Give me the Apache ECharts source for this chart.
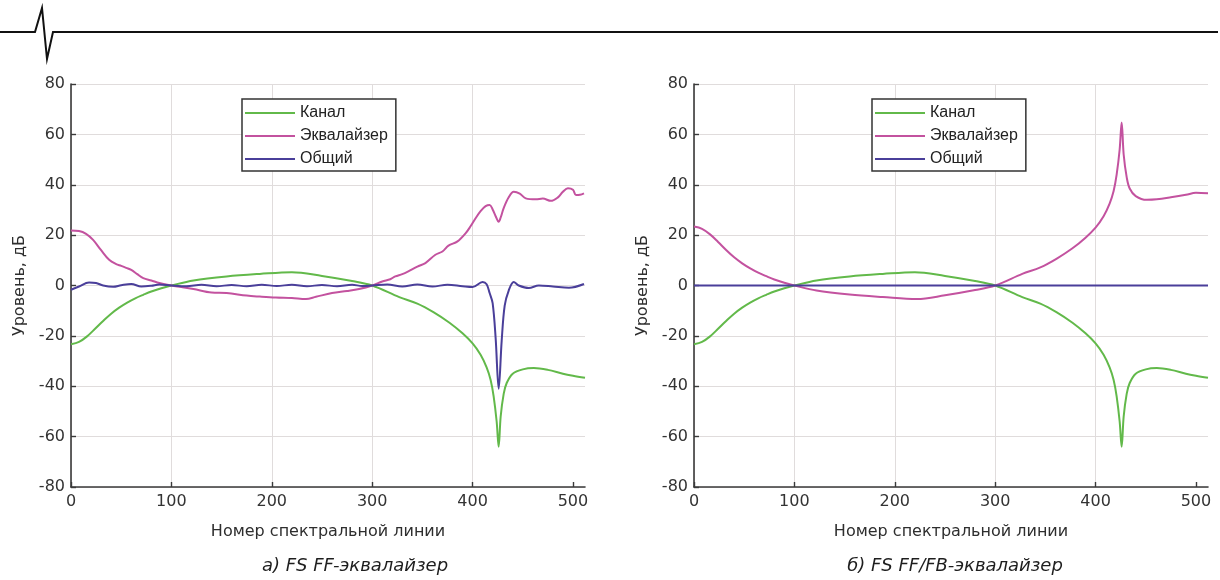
<!DOCTYPE html>
<html>
<head>
<meta charset="utf-8">
<script src="https://cdn.jsdelivr.net/npm/echarts@6/dist/echarts.min.js"></script>
<style>
  html, body { margin: 0; padding: 0; background: #ffffff; }
  #chart { width: 1220px; height: 580px; }
</style>
</head>
<body>
<div id="chart"></div>
<script>
// ---- Axis settings ----
const xTicks = [0, 100, 200, 300, 400, 500];
const xMax = 512;
const yMin = -80, yMax = 80, yStep = 20;

// ---- Channel response (same in both panels) ----
const kanalN  = [0, 8, 16, 24, 32, 40, 48, 56, 64, 72, 80, 90, 100, 122, 155, 188, 220, 250, 280, 300, 327, 345, 361, 377, 390, 400, 408, 414, 418, 421, 424, 426, 428, 431, 434, 440, 450, 461, 475, 490, 500, 512];
const kanalDb = [-23.3, -22.4, -20.2, -17.2, -14.1, -11.2, -8.8, -6.8, -5.1, -3.7, -2.4, -1.1, 0, 2.0, 3.6, 4.6, 5.3, 3.8, 1.8, 0, -4.6, -7.2, -10.6, -14.8, -19.0, -23.0, -27.5, -32.5, -37.5, -44.0, -54.0, -64.0, -52.0, -43.0, -38.7, -35.0, -33.3, -32.8, -33.5, -35.0, -35.8, -36.6];

// ---- Panel a: FF equalizer ----
const eqA_N  = [0, 8, 15, 22, 30, 38, 45, 50, 55, 60, 66, 72, 80, 88, 100, 110, 122, 140, 155, 175, 188, 204, 220, 234, 244, 260, 275, 287, 300, 310, 318, 323, 330, 336, 345, 353, 363, 370, 376, 385, 393, 398, 403, 408, 413, 417, 420, 423, 426, 428, 431, 436, 441, 447, 453, 463, 470, 478, 485, 490, 495, 500, 503, 507, 511];
const eqA_Db = [21.8, 21.6, 20.5, 18.1, 14.0, 10.2, 8.5, 7.8, 7.0, 6.2, 4.5, 2.9, 2.0, 1.0, 0, -0.6, -1.4, -2.8, -3.0, -4.0, -4.4, -4.8, -5.0, -5.4, -4.5, -3.0, -2.2, -1.4, 0, 1.6, 2.5, 3.6, 4.5, 5.6, 7.5, 8.9, 12.2, 13.5, 15.8, 17.5, 20.7, 23.5, 26.7, 29.5, 31.5, 32.0, 30.2, 27.5, 25.3, 27.0, 30.7, 35.0, 37.2, 36.5, 34.6, 34.2, 34.5, 33.6, 35.0, 37.2, 38.6, 38.0, 35.9, 36.0, 36.6];

const totA_N  = [0, 8, 18, 25, 32, 42, 50, 60, 70, 80, 88, 100, 115, 130, 145, 160, 175, 190, 205, 220, 235, 250, 265, 280, 290, 300, 315, 330, 345, 360, 375, 390, 400, 410, 414, 417, 420, 423, 426, 429, 432, 436, 441, 446, 456, 466, 480, 496, 511];
const totA_Db = [-1.7, -0.4, 1.2, 1.0, 0, -0.5, 0.1, 0.6, -0.4, -0.1, 0.4, 0, -0.3, 0.3, -0.3, 0.2, -0.3, 0.3, -0.2, 0.3, -0.3, 0.2, -0.3, 0.3, -0.2, 0, 0.4, -0.4, 0.4, -0.4, 0.3, -0.3, -0.6, 1.4, 0.5, -3.0, -7.0, -21.0, -41.0, -22.0, -8.0, -2.0, 1.4, 0, -1.0, 0, -0.4, -0.9, 0.6];

// ---- Panel b: FF/FB equalizer ----
const eqB_N  = [0, 8, 16, 24, 32, 40, 48, 56, 64, 72, 80, 90, 100, 122, 155, 188, 222, 250, 280, 300, 327, 345, 361, 377, 390, 400, 408, 414, 418, 421, 424, 426, 428, 431, 434, 440, 451, 461, 475, 490, 500, 512];
const eqB_Db = [23.4, 22.5, 20.3, 17.3, 14.1, 11.2, 8.8, 6.8, 5.1, 3.7, 2.4, 1.1, 0, -2.0, -3.6, -4.6, -5.4, -3.9, -1.8, 0, 4.6, 7.2, 10.6, 14.8, 19.0, 23.0, 27.5, 32.5, 37.5, 44.0, 54.0, 64.7, 52.0, 43.0, 38.5, 35.5, 34.0, 34.2, 35.0, 36.0, 36.8, 36.6];

const totB_N  = [0, 512];
const totB_Db = [0, 0];

// ---- Text ----
const seriesNames = ['Канал', 'Эквалайзер', 'Общий'];
const xName = 'Номер спектральной линии';
const yName = 'Уровень, дБ';
const captions = ['а) FS FF-эквалайзер', 'б) FS FF/FB-эквалайзер'];

const colors = { kanal: '#62b94a', eq: '#c3529f', tot: '#4a3f9a' };
const FONT = 'Arial, "Liberation Sans", sans-serif';
const WIDE = '"DejaVu Sans", Verdana, sans-serif';

const zip = (xs, ys) => xs.map((x, i) => [x, ys[i]]);

function xAxisFor(gridIndex) {
  return {
    type: 'value', gridIndex, min: 0, max: xMax, interval: 100,
    name: xName, nameLocation: 'middle', nameGap: 37,
    nameTextStyle: { fontSize: 16, color: '#2e2e2e', fontFamily: WIDE },
    axisLine: { show: true, onZero: false, lineStyle: { color: '#3a3a3a', width: 1.6 } },
    axisTick: { show: true, inside: true, length: 5, customValues: xTicks, lineStyle: { color: '#3a3a3a', width: 1.4 } },
    axisLabel: { fontSize: 16, color: '#333', fontFamily: WIDE, margin: 7, customValues: xTicks },
    splitLine: { show: true, showMaxLine: false, lineStyle: { color: '#e0dcdc', width: 1 } }
  };
}
function yAxisFor(gridIndex) {
  return {
    type: 'value', gridIndex, min: yMin, max: yMax, interval: yStep,
    name: yName, nameLocation: 'middle', nameGap: 43, nameRotate: 90,
    nameTextStyle: { fontSize: 16, color: '#2e2e2e', fontFamily: WIDE },
    axisLine: { show: true, onZero: false, lineStyle: { color: '#3a3a3a', width: 1.6 } },
    axisTick: { show: true, inside: true, length: 5, lineStyle: { color: '#3a3a3a', width: 1.4 } },
    axisLabel: { fontSize: 16, color: '#333', fontFamily: WIDE, margin: 6 },
    splitLine: { show: true, lineStyle: { color: '#e0dcdc', width: 1 } }
  };
}
function legendFor(left, top) {
  return {
    orient: 'vertical', left, top,
    data: seriesNames,
    icon: 'rect',
    backgroundColor: '#ffffff',
    borderColor: '#333', borderWidth: 1.5, borderRadius: 0,
    padding: [6, 8, 4, 3],
    itemGap: 7, itemWidth: 50, itemHeight: 2, itemTextGap: 2,
    selectedMode: false,
    textStyle: { fontSize: 16, color: '#222', fontFamily: FONT, lineHeight: 16, height: 16 }
  };
}
function lineSeries(name, data, color, idx) {
  return {
    name, type: 'line', xAxisIndex: idx, yAxisIndex: idx,
    data, smooth: 0.35, symbol: 'none', showSymbol: false,
    lineStyle: { color, width: 2 }, itemStyle: { color },
    animation: false, z: 3
  };
}

const chart = echarts.init(document.getElementById('chart'), null, { renderer: 'canvas' });
chart.setOption({
  backgroundColor: '#ffffff',
  animation: false,
  grid: [
    { left: 71, top: 84, width: 514, height: 403, containLabel: false, outerBoundsMode: 'none' },
    { left: 694, top: 84, width: 514, height: 403, containLabel: false, outerBoundsMode: 'none' }
  ],
  xAxis: [xAxisFor(0), xAxisFor(1)],
  yAxis: [yAxisFor(0), yAxisFor(1)],
  legend: [legendFor(242, 99), legendFor(872, 99)],
  series: [
    lineSeries(seriesNames[0], zip(kanalN, kanalDb), colors.kanal, 0),
    lineSeries(seriesNames[1], zip(eqA_N, eqA_Db), colors.eq, 0),
    lineSeries(seriesNames[2], zip(totA_N, totA_Db), colors.tot, 0),
    lineSeries(seriesNames[0], zip(kanalN, kanalDb), colors.kanal, 1),
    lineSeries(seriesNames[1], zip(eqB_N, eqB_Db), colors.eq, 1),
    lineSeries(seriesNames[2], zip(totB_N, totB_Db), colors.tot, 1)
  ],
  graphic: [
    {
      type: 'polyline',
      shape: { points: [[0, 32], [35, 32], [42, 8], [47, 59], [53, 32], [1218, 32]] },
      style: { stroke: '#111', lineWidth: 2, fill: null }
    },
    {
      type: 'text', x: 355, y: 566,
      style: { text: captions[0], fill: '#1e1e1e', font: 'italic 18px ' + WIDE, textAlign: 'center', textVerticalAlign: 'middle' }
    },
    {
      type: 'text', x: 955, y: 566,
      style: { text: captions[1], fill: '#1e1e1e', font: 'italic 18px ' + WIDE, textAlign: 'center', textVerticalAlign: 'middle' }
    }
  ]
});
</script>
</body>
</html>
